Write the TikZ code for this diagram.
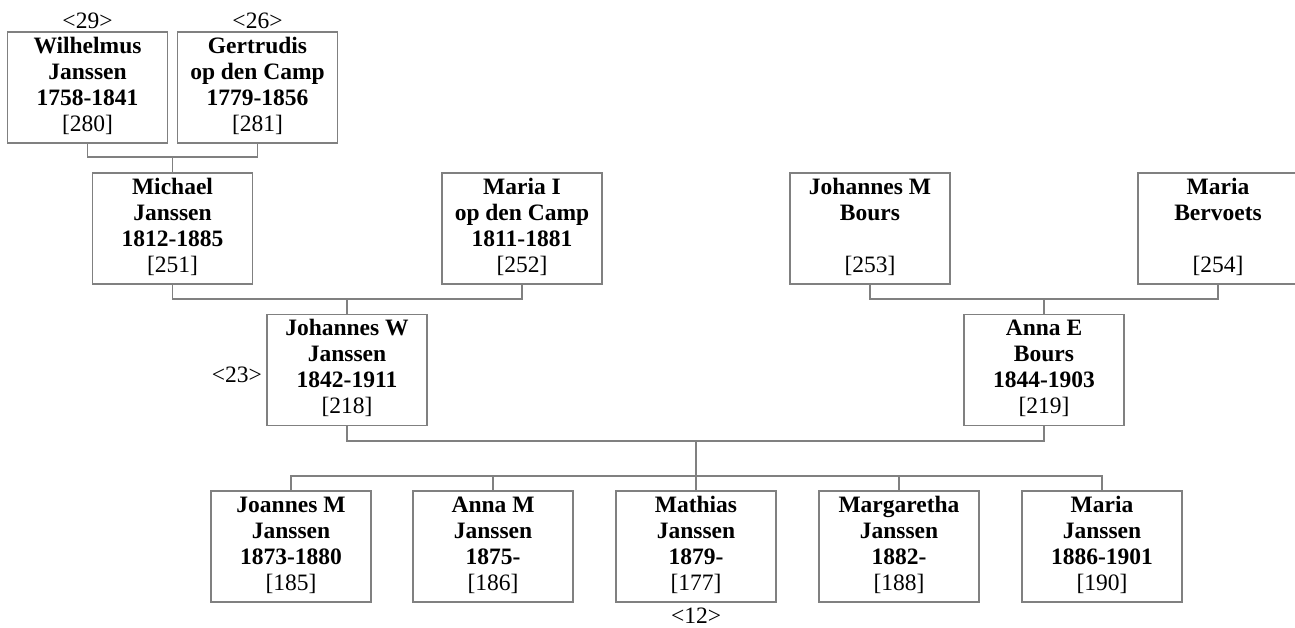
\documentclass[tikz,border=0pt]{standalone}
\usepackage{fontspec}
\setmainfont{Liberation Serif}
\definecolor{lc}{RGB}{128,128,128}
\newcommand\persontext[4]{\parbox[t][111pt][t]{160pt}{\centering\fontsize{23.5}{26}\selectfont\rule{0pt}{21pt}\textbf{#1}\\\textbf{#2}\\\mbox{}\textbf{#3}\\{[#4]}}}
\tikzset{
  person/.style={draw=lc, line width=1.2pt, inner sep=0pt, outer sep=0pt, anchor=center},
  tag/.style={inner sep=0pt, font=\fontsize{23.5}{26}\selectfont},
  link/.style={draw=lc, line width=1.2pt}
}
\begin{document}
\begin{tikzpicture}[x=1pt,y=-1pt]
\useasboundingbox (0,0) rectangle (1295,627);
% generation 1
\node[person] (wj) at (87.5,87.5) {\persontext{Wilhelmus}{Janssen}{1758-1841}{280}};
\node[person] (gc) at (257.5,87.5) {\persontext{Gertrudis}{op den Camp}{1779-1856}{281}};
% generation 2
\node[person] (mj) at (172.5,228.5) {\persontext{Michael}{Janssen}{1812-1885}{251}};
\node[person] (mc) at (522,228.5) {\persontext{Maria I}{op den Camp}{1811-1881}{252}};
\node[person] (jb) at (870,228.5) {\persontext{Johannes M}{Bours}{}{253}};
\node[person] (mb) at (1218,228.5) {\persontext{Maria}{Bervoets}{}{254}};
% generation 3
\node[person] (jw) at (347,370) {\persontext{Johannes W}{Janssen}{1842-1911}{218}};
\node[person] (ab) at (1044,370) {\persontext{Anna E}{Bours}{1844-1903}{219}};
% children
\node[person] (jm) at (291,546.5) {\persontext{Joannes M}{Janssen}{1873-1880}{185}};
\node[person] (am) at (493,546.5) {\persontext{Anna M}{Janssen}{1875-}{186}};
\node[person] (mt) at (696,546.5) {\persontext{Mathias}{Janssen}{1879-}{177}};
\node[person] (mg) at (899,546.5) {\persontext{Margaretha}{Janssen}{1882-}{188}};
\node[person] (ma) at (1102,546.5) {\persontext{Maria}{Janssen}{1886-1901}{190}};
% labels
\node[tag, anchor=base] (n29) at (87.5,28) {<29>};
\node[tag, anchor=base] (n26) at (257.5,28) {<26>};
\node[tag, anchor=base east] (n23) at (262,382) {<23>};
\node[tag, anchor=base] (n12) at (696,623) {<12>};
% connectors
\coordinate (u1) at (172.5,157);
\draw[link] (wj.south) |- (u1) -| (gc.south);
\draw[link] (u1) -- (mj.north);
\coordinate (u2) at (347,299);
\draw[link] (mj.south) |- (u2) -| (mc.south);
\draw[link] (u2) -- (jw.north);
\coordinate (u3) at (1044,299);
\draw[link] (jb.south) |- (u3) -| (mb.south);
\draw[link] (u3) -- (ab.north);
\coordinate (u4) at (696,441);
\coordinate (u5) at (696,476);
\draw[link] (jw.south) |- (u4) -| (ab.south);
\draw[link] (u4) -- (u5);
\draw[link] (jm.north) -- (jm.north |- u5) -- (ma.north |- u5) -- (ma.north);
\draw[link] (am.north) -- (am.north |- u5);
\draw[link] (mt.north) -- (mt.north |- u5);
\draw[link] (mg.north) -- (mg.north |- u5);
\end{tikzpicture}
\end{document}
